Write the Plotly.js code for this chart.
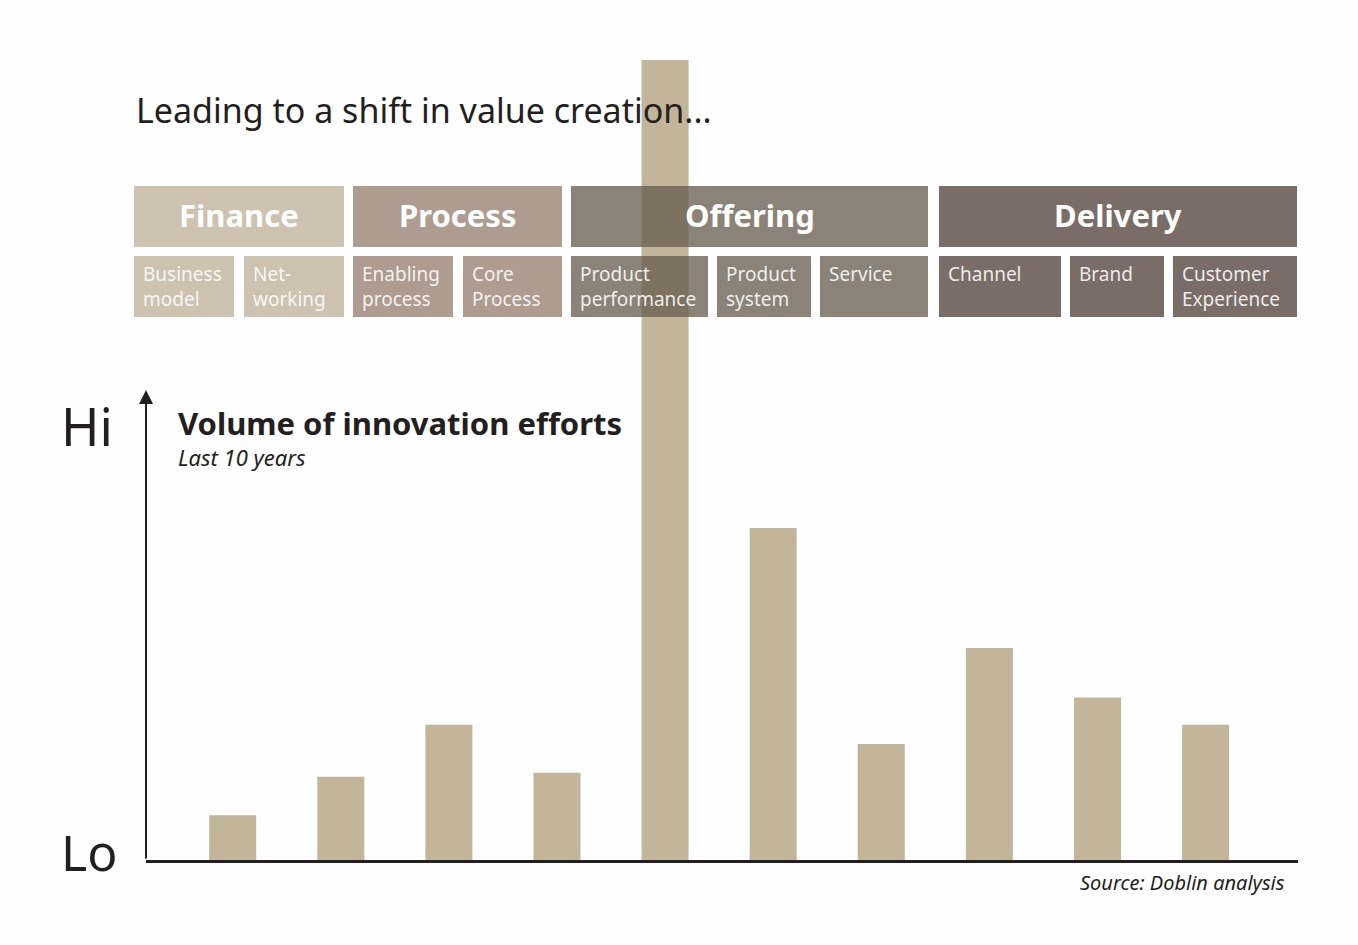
<!DOCTYPE html>
<html>
<head>
<meta charset="utf-8">
<script src="https://cdn.plot.ly/plotly-3.0.1.min.js"></script>
<style>
html,body{margin:0;padding:0;background:#fefefe;}
#chart{width:1358px;height:945px;}
</style>
</head>
<body>
<div id="chart"></div>
<script>
// ---- data ----
const categories = ["Business model","Net-working","Enabling process","Core Process","Product performance","Product system","Service","Channel","Brand","Customer Experience"];
const volume = [5.6, 10.4, 16.9, 10.9, 100, 41.5, 14.5, 26.5, 20.3, 16.9];
const groupNames = ["Finance","Process","Offering","Delivery"];
const subLabels = ["Business<br>model","Net-<br>working","Enabling<br>process","Core<br>Process","Product<br>performance","Product<br>system","Service","Channel","Brand","Customer<br>Experience"];

// ---- layout helpers (pixel -> paper) ----
const W = 1358, H = 945;
const M = {l:146, r:60, t:60, b:85};
const PW = W - M.l - M.r, PH = H - M.t - M.b;
const px = x => (x - M.l) / PW;
const py = y => (H - M.b - y) / PH;

const FONT = "Noto Sans, Open Sans, sans-serif";

const groupBoxes = [
  {x0:134, x1:344, color:"#cdc3b0"},
  {x0:353, x1:562, color:"#ae9c91"},
  {x0:571, x1:928, color:"rgba(104,94,78,0.77)"},
  {x0:939, x1:1297, color:"#7a6d68"}
];
const subBoxes = [
  {x0:134, x1:234, color:"#cdc3b0"},
  {x0:244, x1:344, color:"#cdc3b0"},
  {x0:353, x1:453, color:"#ae9c91"},
  {x0:463, x1:562, color:"#ae9c91"},
  {x0:571, x1:708, color:"rgba(104,94,78,0.77)"},
  {x0:717, x1:811, color:"rgba(104,94,78,0.77)"},
  {x0:820, x1:928, color:"rgba(104,94,78,0.77)"},
  {x0:939, x1:1061, color:"#7a6d68"},
  {x0:1070, x1:1164, color:"#7a6d68"},
  {x0:1173, x1:1297, color:"#7a6d68"}
];

const shapes = [];
const annotations = [];

groupBoxes.forEach((b,i)=>{
  shapes.push({type:"rect", xref:"paper", yref:"paper", layer:"above",
    x0:px(b.x0), x1:px(b.x1), y0:py(247), y1:py(186),
    fillcolor:b.color, line:{width:0}});
  annotations.push({xref:"paper", yref:"paper", x:px((b.x0+b.x1)/2), y:py(215),
    text:"<b>"+groupNames[i]+"</b>", showarrow:false, xanchor:"center", yanchor:"middle",
    font:{family:FONT, size:31, color:"#ffffff"}});
});
subBoxes.forEach((b,i)=>{
  shapes.push({type:"rect", xref:"paper", yref:"paper", layer:"above",
    x0:px(b.x0), x1:px(b.x1), y0:py(317), y1:py(256),
    fillcolor:b.color, line:{width:0}});
  annotations.push({xref:"paper", yref:"paper", x:px(b.x0+7), y:py(259),
    text:subLabels[i], showarrow:false, xanchor:"left", yanchor:"top", align:"left",
    font:{family:FONT, size:19, color:"rgba(255,255,255,0.88)"}});
});

// title
annotations.push({xref:"paper", yref:"paper", x:px(134), y:py(110), text:"Leading to a shift in value creation...",
  showarrow:false, xanchor:"left", yanchor:"middle", font:{family:FONT, size:34, color:"#231f20"}});
// chart heading
annotations.push({xref:"paper", yref:"paper", x:px(176), y:py(423), text:"<b>Volume of innovation efforts</b>",
  showarrow:false, xanchor:"left", yanchor:"middle", font:{family:FONT, size:31, color:"#231f20"}});
annotations.push({xref:"paper", yref:"paper", x:px(176), y:py(457), text:"<i>Last 10 years</i>",
  showarrow:false, xanchor:"left", yanchor:"middle", font:{family:FONT, size:22, color:"#231f20"}});
// Hi / Lo
annotations.push({xref:"paper", yref:"paper", x:px(59), y:py(425), text:"Hi",
  showarrow:false, xanchor:"left", yanchor:"middle", font:{family:FONT, size:52, color:"#231f20"}});
annotations.push({xref:"paper", yref:"paper", x:px(59), y:py(852), text:"Lo",
  showarrow:false, xanchor:"left", yanchor:"middle", font:{family:FONT, size:50, color:"#231f20"}});
// source
annotations.push({xref:"paper", yref:"paper", x:px(1287), y:py(882), text:"<i>Source: Doblin analysis</i>",
  showarrow:false, xanchor:"right", yanchor:"middle", font:{family:FONT, size:20, color:"#231f20"}});
// y axis arrow
annotations.push({xref:"paper", yref:"paper", x:0, y:py(390), ax:0, ay:470, axref:"pixel", ayref:"pixel",
  text:"", showarrow:true, arrowhead:2, arrowsize:1.4, arrowwidth:2, arrowcolor:"#231f20"});

const trace = {
  type:"bar", x:categories, y:volume,
  marker:{color:"#c3b59a", line:{width:0}},
  hoverinfo:"x+y", cliponaxis:false
};

const layout = {
  width:W, height:H,
  margin:M,
  paper_bgcolor:"#fefefe", plot_bgcolor:"#fefefe",
  showlegend:false,
  bargap:0.565,
  xaxis:{type:"category", range:[-0.802, 9.855], showticklabels:false, ticks:"", showgrid:false,
    zeroline:false, showline:true, linecolor:"#231f20", linewidth:2.5, fixedrange:true},
  yaxis:{range:[0,100], showticklabels:false, showgrid:false, zeroline:false, showline:false, fixedrange:true},
  shapes:shapes,
  annotations:annotations
};

Plotly.newPlot("chart", [trace], layout, {displayModeBar:false, staticPlot:true});
</script>
</body>
</html>
